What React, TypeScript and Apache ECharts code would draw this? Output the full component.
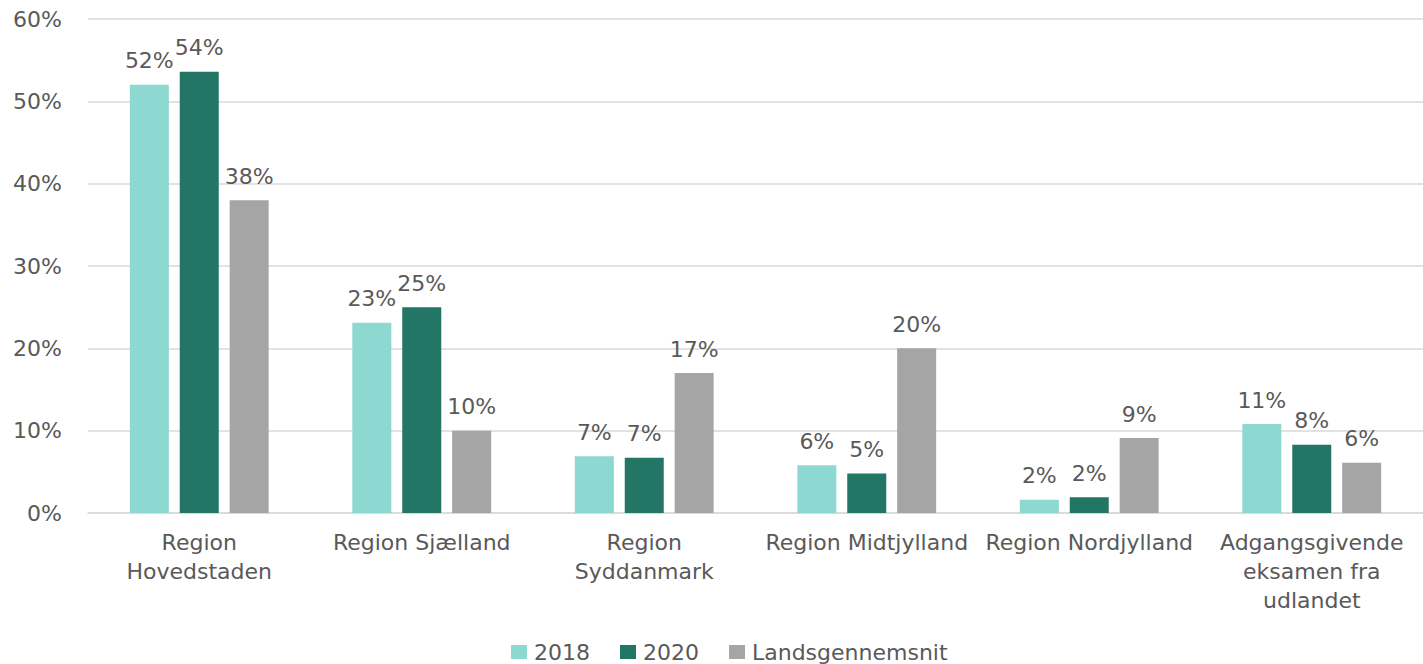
import React, { useEffect, useRef } from "react";
import * as echarts from "echarts";

const categories = [
  "Region\nHovedstaden",
  "Region Sjælland",
  "Region\nSyddanmark",
  "Region Midtjylland",
  "Region Nordjylland",
  "Adgangsgivende\neksamen fra\nudlandet",
];
const seriesNames = ["2018", "2020", "Landsgennemsnit"];
const values2018 = [52.0, 23.1, 6.9, 5.8, 1.6, 10.8];
const values2020 = [53.6, 25.0, 6.7, 4.8, 1.9, 8.3];
const valuesLands = [38.0, 10.0, 17.0, 20.0, 9.1, 6.1];
const yTicks = [0, 10, 20, 30, 40, 50, 60];

const colors = ["#8dd8d0", "#237565", "#a5a5a5"];
const textColor = "#595959";
const font = "'DejaVu Sans', sans-serif";
const fs = 22;

export default function App() {
  const ref = useRef<HTMLDivElement>(null);
  useEffect(() => {
    if (!ref.current) return;
    const chart = echarts.init(ref.current, undefined, { renderer: "svg" });
    const data = [values2018, values2020, valuesLands];
    chart.setOption({
      animation: false,
      textStyle: { fontFamily: font },
      grid: { left: 88, right: 0, top: 19, bottom: 151, containLabel: false },
      legend: {
        top: 636,
        left: 506,
        itemWidth: 16,
        itemHeight: 14,
        itemGap: 30,
        icon: "rect",
        textStyle: { color: textColor, fontSize: fs, fontFamily: font, padding: [0, 0, 0, 2] },
        data: seriesNames,
      },
      xAxis: {
        type: "category",
        data: categories,
        axisLine: { show: true, lineStyle: { color: "#d9d9d9", width: 1.5 } },
        axisTick: { show: false },
        axisLabel: {
          interval: 0,
          color: textColor,
          fontSize: fs,
          lineHeight: 29,
          margin: 15,
          fontFamily: font,
        },
      },
      yAxis: {
        type: "value",
        min: yTicks[0],
        max: yTicks[yTicks.length - 1],
        interval: 10,
        axisLine: { show: false },
        axisTick: { show: false },
        splitLine: { lineStyle: { color: "#d9d9d9", width: 1.5 } },
        axisLabel: {
          color: textColor,
          fontSize: fs,
          margin: 26,
          fontFamily: font,
          formatter: (v: number) => `${v}%`,
        },
      },
      series: seriesNames.map((name, i) => ({
        name,
        type: "bar",
        data: data[i],
        barWidth: 39,
        barGap: "28%",
        itemStyle: { color: colors[i] },
        label: {
          show: true,
          position: "top",
          distance: 13,
          color: textColor,
          fontSize: fs,
          fontFamily: font,
          formatter: (p: any) => `${Math.round(p.value)}%`,
        },
      })),
    });
    return () => chart.dispose();
  }, []);
  return (
    <div
      ref={ref}
      style={{ position: "fixed", left: 0, top: 0, width: 1423, height: 664, background: "#fff" }}
    />
  );
}
